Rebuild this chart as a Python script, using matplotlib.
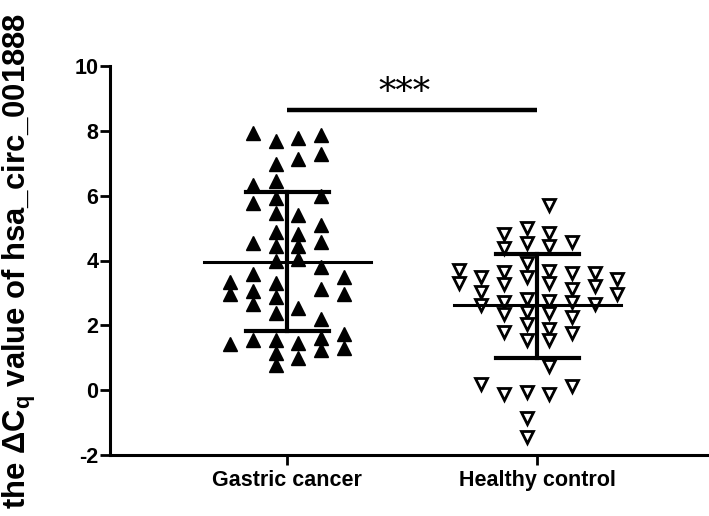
import numpy as np
import matplotlib
matplotlib.use("Agg")
import matplotlib.pyplot as plt

plt.rcParams["font.family"] = ["Liberation Sans", "DejaVu Sans"]
plt.rcParams["font.weight"] = "bold"
plt.rcParams["axes.unicode_minus"] = False

groups = ["Gastric cancer", "Healthy control"]

# gastric cancer: column slot and value of each point
gc_slot = [-2.5, -2.5, -2.5,
           -1.5, -1.5, -1.5, -1.5, -1.5, -1.5, -1.5, -1.5,
           -0.5, -0.5, -0.5, -0.5, -0.5, -0.5, -0.5, -0.5, -0.5, -0.5, -0.5, -0.5, -0.5, -0.5,
           0.5, 0.5, 0.5, 0.5, 0.5, 0.5, 0.5, 0.5, 0.5,
           1.5, 1.5, 1.5, 1.5, 1.5, 1.5, 1.5, 1.5, 1.5, 1.5,
           2.5, 2.5, 2.5, 2.5]
gc_val = [3.34, 2.98, 1.41,
          7.94, 6.32, 5.76, 4.55, 3.58, 3.06, 2.65, 1.56,
          7.68, 6.97, 6.45, 5.92, 5.45, 4.89, 4.45, 3.99, 3.32, 2.86, 2.37, 1.56, 1.16, 0.77,
          7.77, 7.13, 5.40, 4.81, 4.45, 4.05, 2.54, 1.46, 0.98,
          7.87, 7.27, 6.00, 5.11, 4.58, 3.81, 3.11, 2.21, 1.60, 1.23,
          3.48, 2.98, 1.73, 1.31]

# healthy control
hc_slot = [-3.5, -3.5,
           -2.5, -2.5, -2.5, -2.5,
           -1.5, -1.5, -1.5, -1.5, -1.5, -1.5, -1.5, -1.5,
           -0.5, -0.5, -0.5, -0.5, -0.5, -0.5, -0.5, -0.5, -0.5, -0.5, -0.5,
           0.5, 0.5, 0.5, 0.5, 0.5, 0.5, 0.5, 0.5, 0.5, 0.5, 0.5,
           1.5, 1.5, 1.5, 1.5, 1.5, 1.5, 1.5,
           2.5, 2.5, 2.5,
           3.5, 3.5]
hc_val = [3.72, 3.31,
          3.48, 3.03, 2.62, 0.19,
          4.81, 4.40, 3.65, 3.27, 2.73, 2.35, 1.80, -0.12,
          4.99, 4.55, 3.93, 3.50, 2.80, 2.42, 2.04, 1.54, -0.07, -0.87, -1.44,
          5.71, 4.84, 4.44, 3.68, 3.31, 2.76, 2.37, 1.90, 1.54, 0.74, -0.12,
          4.58, 3.62, 3.11, 2.73, 2.26, 1.75, 0.12,
          3.60, 3.21, 2.65,
          3.42, 2.98]

# mean and mean +/- SD as drawn
means = [3.96, 2.62]
sd_lo = [1.84, 0.98]
sd_hi = [6.12, 4.21]

sig_y = 8.65
sig_text = "***"

fig = plt.figure(figsize=(7.09, 5.16), dpi=100)
ax = fig.add_axes([110 / 709, 61 / 516, 599 / 709, 389 / 516])

step = 0.0905
ax.plot(0 + np.array(gc_slot) * step, gc_val, linestyle="none", marker="^",
        markersize=9.5, color="black", zorder=3)
ax.plot(1 + 0.004 + np.array(hc_slot) * step, hc_val, linestyle="none", marker="v",
        markersize=9, markerfacecolor="white", markeredgecolor="black",
        markeredgewidth=2, zorder=3)

for i in range(2):
    ax.plot([i - 0.334, i + 0.334], [means[i], means[i]], color="black", lw=2.2, zorder=4)
    ax.plot([i, i], [sd_lo[i], sd_hi[i]], color="black", lw=3, zorder=4)
    for v in (sd_lo[i], sd_hi[i]):
        ax.plot([i - 0.166, i + 0.166], [v, v], color="black", lw=3, zorder=4)

ax.plot([0, 1], [sig_y, sig_y], color="black", lw=3.2, solid_capstyle="butt")
ax.text(0.47, sig_y + 0.0, sig_text, ha="center", va="bottom", fontsize=25,
        fontweight="normal", family="DejaVu Serif")

ax.set_xlim(-0.708, 1.688)
ax.set_ylim(-2, 10)
ax.set_yticks(np.arange(-2, 11, 2))
ax.set_xticks([0, 1])
ax.set_xticklabels(groups)
ax.tick_params(axis="both", width=2, length=7, labelsize=15.5, direction="out")
ax.tick_params(axis="y", pad=1.5)
ax.tick_params(axis="x", pad=4)
for s in ("top", "right"):
    ax.spines[s].set_visible(False)
for s in ("left", "bottom"):
    ax.spines[s].set_linewidth(2.2)

ax.set_ylabel("the \u0394C$_\\mathregular{q}$ value of hsa_circ_001888",
              fontsize=22.3, fontweight="bold")
ax.yaxis.set_label_coords(-0.12, 0.5)

fig.savefig("out.png", dpi=100)
